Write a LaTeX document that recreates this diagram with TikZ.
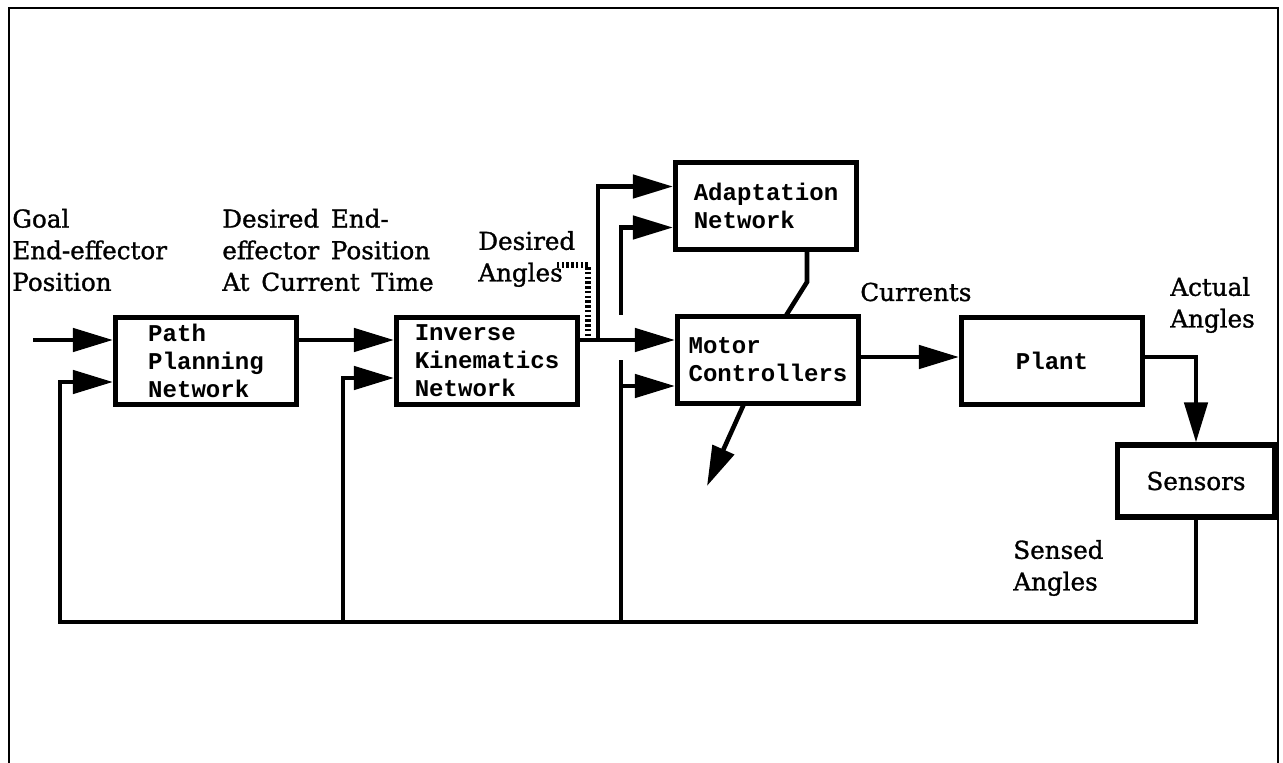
\documentclass[tikz,border=0pt]{standalone}
\usepackage{fontspec}
\setmainfont{DejaVu Serif}[FakeBold=1.2, WordSpace=1.5]
\newfontfamily\blockfont{Liberation Mono}
\usetikzlibrary{arrows.meta}

\begin{document}
\begin{tikzpicture}[x=0.02cm, y=-0.02cm,
    block/.style={draw, line width=2.9pt, minimum width=3.62cm, minimum height=1.74cm, inner sep=0pt, align=left,
        font=\blockfont\bfseries\fontsize{13.7}{16}\selectfont},
    lbl/.style={anchor=west, align=left, inner sep=0pt, font=\fontsize{14}{18}\selectfont},
    wire/.style={line width=2.6pt, line cap=rect},
    arr/.style={wire, -{Triangle[length=0.8cm, width=0.46cm]}},
    leader/.style={line width=3pt, dash pattern=on 1.4pt off 1.3pt}]
    \useasboundingbox (0,0) rectangle (1283,763);

    % Frame round the figure
    \draw[line width=1.3pt] (9,763) -- (9,8) -- (1278,8) -- (1278,763);

    % Blocks
    \node (pp) at (206,361) [block] {Path\\Planning\\Network};
    \node (ik) at (487,361) [block] {Inverse\\Kinematics\\Network};
    \node (ad) at (766,206) [block] {Adaptation\\Network};
    \node (mc) at (768,360) [block] {Motor\\Controllers};
    \node (pl) at (1052,361) [block] {Plant};
    \node (se) at (1196,481) [block, minimum width=3.14cm, minimum height=1.44cm,
        font=\fontsize{14}{18}\selectfont] {Sensors};

    % Labels
    \node (goal) at (12,250) [lbl] {Goal\\End-effector\\Position};
    \node (dep) at (222,250) [lbl] {Desired End-\\effector Position\\At Current Time};
    \node (da) at (478,259) [lbl] {Desired\\Angles};
    \node (cur) at (860,292) [lbl] {Currents};
    \node (act) at (1170,305) [lbl] {Actual\\Angles};
    \node (sen) at (1013,568) [lbl] {Sensed\\Angles};

    % Points of the feedback bus
    \coordinate (in) at (35,340);
    \coordinate (b1) at (60,622);
    \coordinate (b2) at (343,622);
    \coordinate (b3) at (621,622);
    \coordinate (ikout) at ([yshift=0.42cm]ik.east);
    \coordinate (j1) at (598,340);
    \coordinate (g1) at (621,313);
    \coordinate (g2) at (621,362);
    \coordinate (mcout) at (707,486);
    \coordinate (dstart) at (557,265);
    \coordinate (dtop) at (588,265);

    % Forward path
    \draw[arr] (in) -- (in -| pp.west);
    \draw[arr] ([yshift=0.42cm]pp.east) -- ([yshift=0.42cm]ik.west);
    \draw[arr] (ikout) -- (ikout -| mc.west);
    \draw[arr] (j1) |- ([yshift=0.39cm]ad.west);
    \draw[arr] ([yshift=0.06cm]mc.east) -- ([yshift=0.06cm]mc.east -| pl.west);
    \draw[arr] ([yshift=0.08cm]pl.east) -| (se.north);
    \draw[wire] ([xshift=0.82cm]ad.south) -- ++(0,30) -- ([xshift=0.38cm]mc.north);
    \draw[arr] ([xshift=-0.5cm]mc.south) -- (mcout);
    \draw[leader] (dstart) -- (dtop) -- (dtop |- ikout);

    % Feedback of the sensed angles
    \draw[wire] (se.south) -- (se.south |- b1) -- (b1);
    \draw[arr] (b1) |- ([yshift=-0.42cm]pp.west);
    \draw[arr] (b2) |- ([yshift=-0.34cm]ik.west);
    \draw[wire] (b3) -- (g2);
    \draw[arr] ([yshift=-0.52cm]mc.west -| b3) -- ([yshift=-0.52cm]mc.west);
    \draw[arr] (g1) |- ([yshift=-0.43cm]ad.west);
\end{tikzpicture}
\end{document}
